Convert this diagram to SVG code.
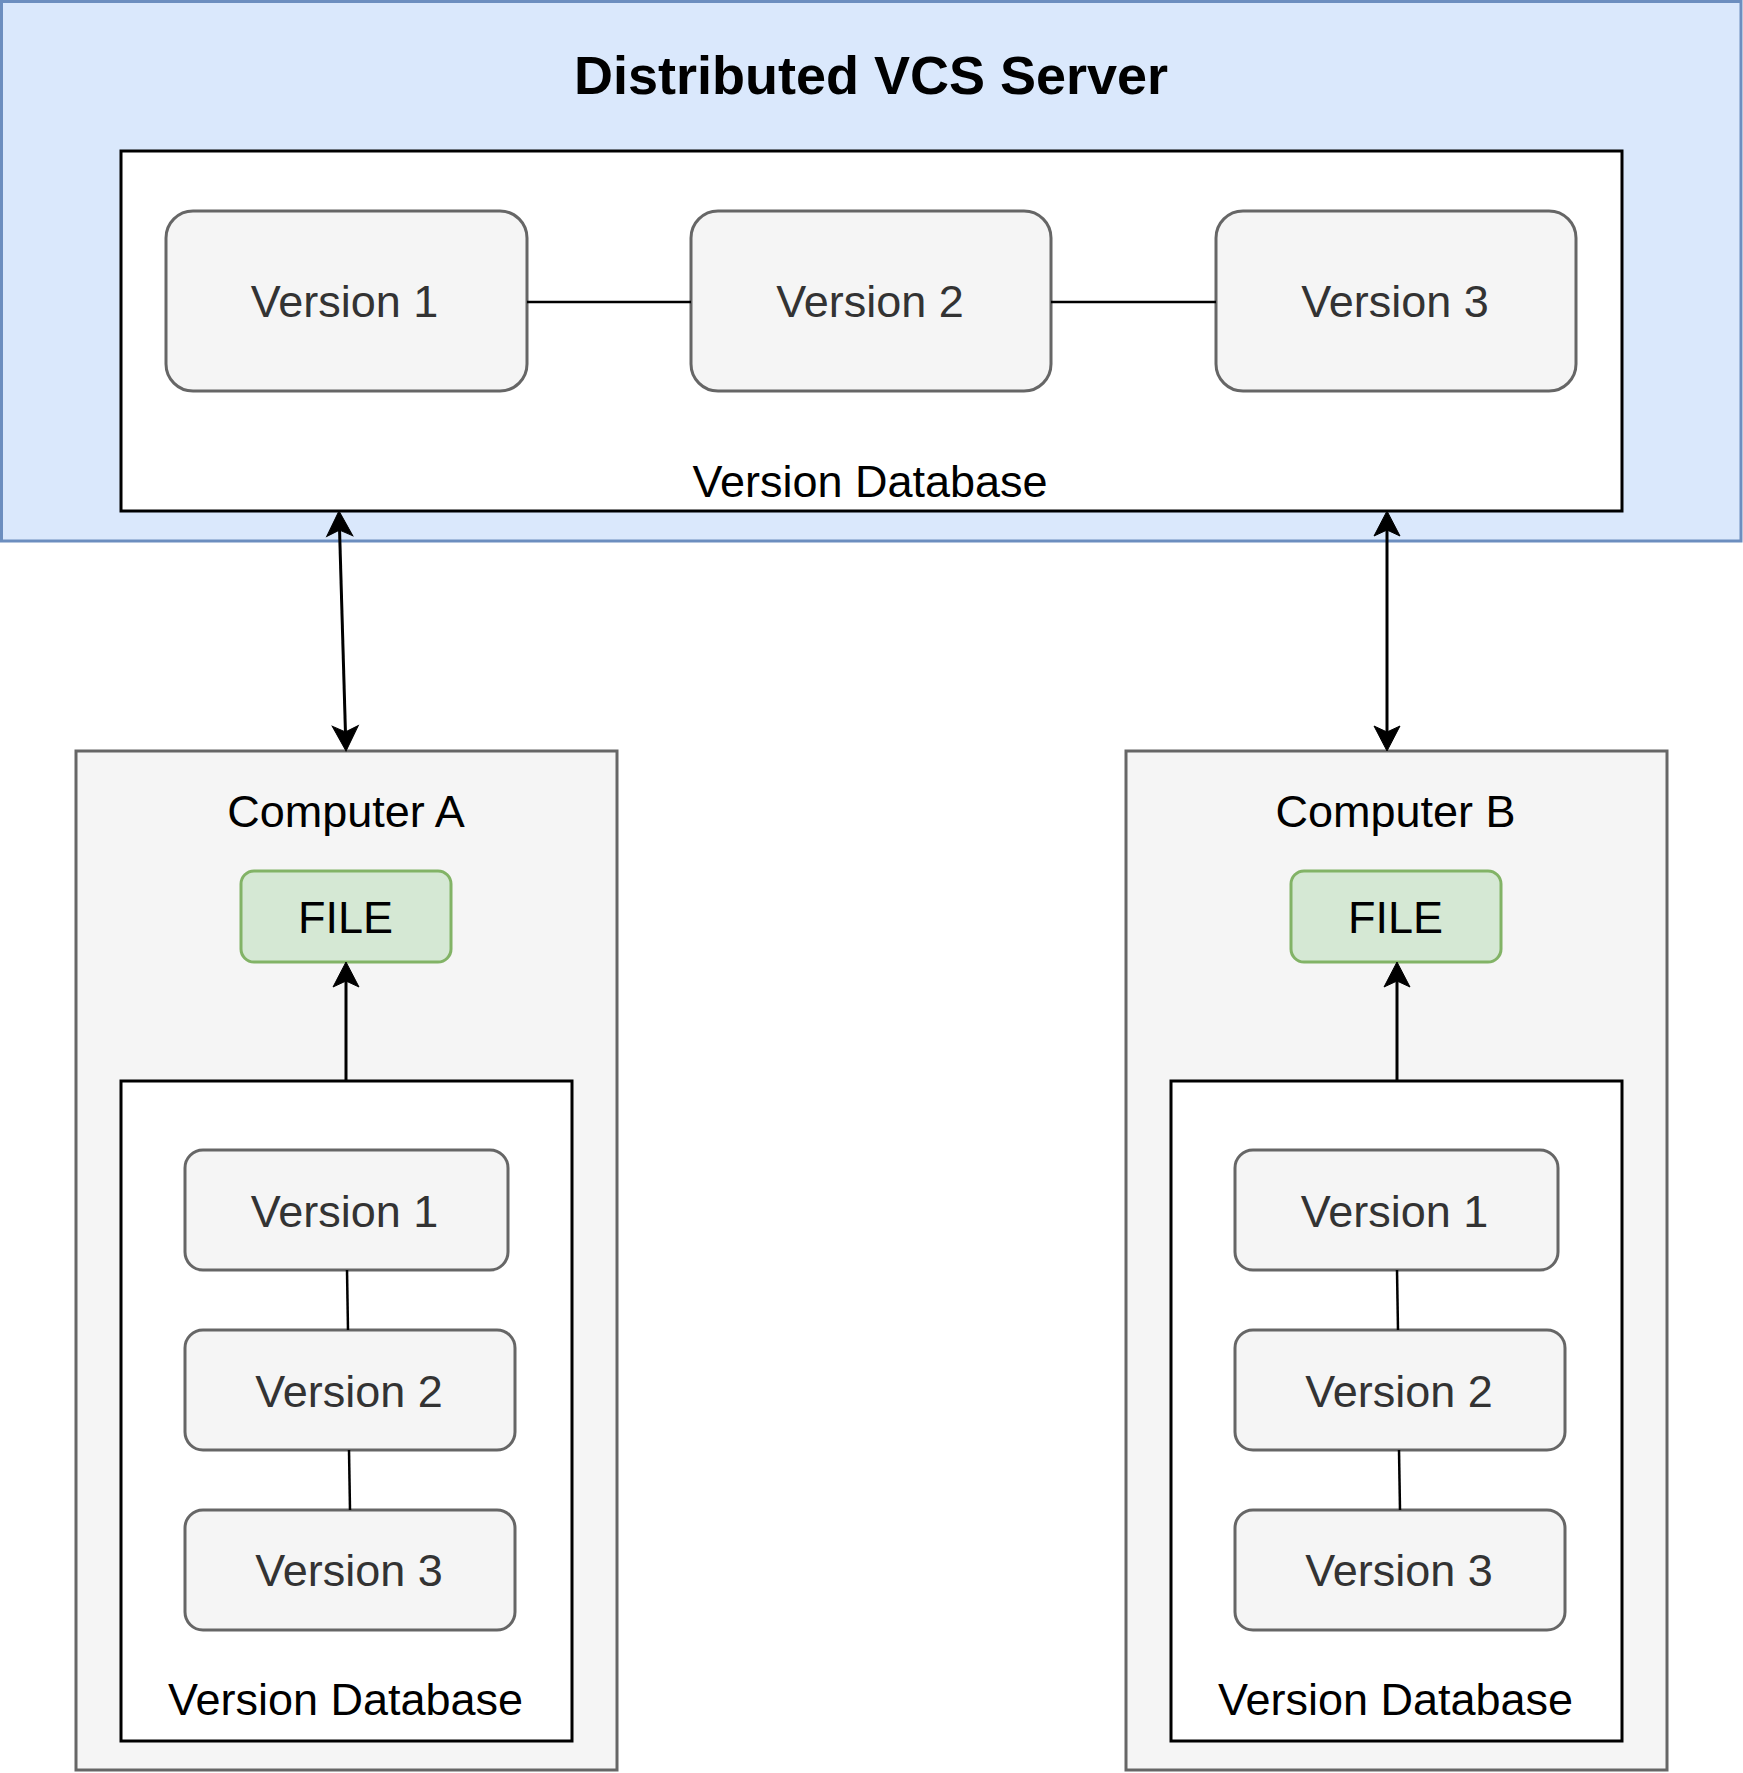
<svg xmlns="http://www.w3.org/2000/svg" width="1743" height="1773" viewBox="0 0 1743 1773">
<style>
text{font-family:"Liberation Sans",Arial,Helvetica,sans-serif;font-size:45px;text-anchor:middle;fill:#000}
.title{font-weight:bold;font-size:54px}
.ver{fill:#f5f5f5;stroke:#666666;stroke-width:3}
.vt{fill:#333333}
.db{fill:#ffffff;stroke:#000000;stroke-width:3}
.comp{fill:#f5f5f5;stroke:#666666;stroke-width:3}
.file{fill:#d5e8d4;stroke:#82b366;stroke-width:3}
.link{stroke:#000;stroke-width:2.5;fill:none}
.arrow{stroke:#000;stroke-width:3;fill:none}
</style>
<defs>
<marker id="ah" markerUnits="userSpaceOnUse" markerWidth="30" markerHeight="30" viewBox="0 -15 30 30" refX="6" refY="0" orient="auto-start-reverse" overflow="visible">
<path d="M25,0 L0,-13 L6,0 L0,13 Z" fill="#000" stroke="#000" stroke-width="1"/>
</marker>
</defs>
<g id="server">
<rect x="1.5" y="1.5" width="1739.5" height="539.5" fill="#dae8fc" stroke="#6c8ebf" stroke-width="3"/>
<text class="title" x="871" y="94">Distributed VCS Server</text>
</g>
<g id="server-db">
<rect class="db" x="121" y="151" width="1501" height="360"/>
<text x="870" y="497">Version Database</text>
</g>
<g id="server-v1">
<rect class="ver" x="166" y="211" width="361" height="180" rx="27"/>
<text class="vt" x="344.5" y="317">Version 1</text>
</g>
<g id="server-v2">
<rect class="ver" x="691" y="211" width="360" height="180" rx="27"/>
<text class="vt" x="870" y="317">Version 2</text>
</g>
<g id="server-v3">
<rect class="ver" x="1216" y="211" width="360" height="180" rx="27"/>
<text class="vt" x="1395" y="317">Version 3</text>
</g>
<g id="computer-a">
<rect class="comp" x="76" y="751" width="541" height="1019"/>
<text x="346" y="827">Computer A</text>
</g>
<g id="file-a">
<rect class="file" x="241" y="871" width="210" height="91" rx="13"/>
<text x="345.5" y="933">FILE</text>
</g>
<g id="db-a">
<rect class="db" x="121" y="1081" width="451" height="660"/>
<text x="345.5" y="1715">Version Database</text>
</g>
<g id="a-v1">
<rect class="ver" x="185" y="1150" width="323" height="120" rx="18"/>
<text class="vt" x="344.5" y="1227">Version 1</text>
</g>
<g id="a-v2">
<rect class="ver" x="185" y="1330" width="330" height="120" rx="18"/>
<text class="vt" x="349" y="1407">Version 2</text>
</g>
<g id="a-v3">
<rect class="ver" x="185" y="1510" width="330" height="120" rx="18"/>
<text class="vt" x="349" y="1586">Version 3</text>
</g>
<g id="computer-b">
<rect class="comp" x="1126" y="751" width="541" height="1019"/>
<text x="1395.5" y="827">Computer B</text>
</g>
<g id="file-b">
<rect class="file" x="1291" y="871" width="210" height="91" rx="13"/>
<text x="1395.5" y="933">FILE</text>
</g>
<g id="db-b">
<rect class="db" x="1171" y="1081" width="451" height="660"/>
<text x="1395.5" y="1715">Version Database</text>
</g>
<g id="b-v1">
<rect class="ver" x="1235" y="1150" width="323" height="120" rx="18"/>
<text class="vt" x="1394.5" y="1227">Version 1</text>
</g>
<g id="b-v2">
<rect class="ver" x="1235" y="1330" width="330" height="120" rx="18"/>
<text class="vt" x="1399" y="1407">Version 2</text>
</g>
<g id="b-v3">
<rect class="ver" x="1235" y="1510" width="330" height="120" rx="18"/>
<text class="vt" x="1399" y="1586">Version 3</text>
</g>
<g id="connectors">
<line class="link" x1="527" y1="302" x2="691" y2="302"/>
<line class="link" x1="1051" y1="302" x2="1216" y2="302"/>
<line class="link" x1="347" y1="1270" x2="348" y2="1330"/>
<line class="link" x1="349" y1="1450" x2="350" y2="1510"/>
<line class="link" x1="1397" y1="1270" x2="1398" y2="1330"/>
<line class="link" x1="1399" y1="1450" x2="1400" y2="1510"/>
<line class="arrow" x1="339.55" y1="530" x2="345.45" y2="732" marker-start="url(#ah)" marker-end="url(#ah)"/>
<line class="arrow" x1="1387" y1="530" x2="1387" y2="732" marker-start="url(#ah)" marker-end="url(#ah)"/>
<line class="arrow" x1="346" y1="1081" x2="346" y2="981" marker-end="url(#ah)"/>
<line class="arrow" x1="1397" y1="1081" x2="1397" y2="981" marker-end="url(#ah)"/>
</g>
</svg>
